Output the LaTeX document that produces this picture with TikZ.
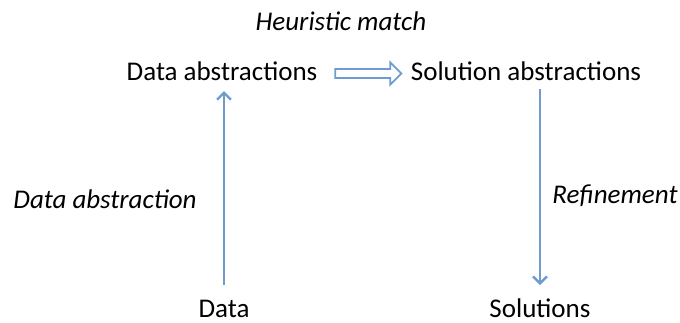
\documentclass[tikz,border=0pt]{standalone}
\usepackage{fontspec}
\setmainfont{Carlito}
\usetikzlibrary{arrows.meta,shapes.arrows}
\definecolor{arrowblue}{RGB}{110,155,208}
\tikzset{
  lbl/.style={font=\fontsize{27}{32}\selectfont, inner sep=0pt, anchor=base},
  ilbl/.style={lbl, font=\fontsize{27}{32}\selectfont\itshape},
  conn/.style={draw=arrowblue, line width=2.6pt, -{Straight Barb[length=7pt,width=14pt,line width=2.4pt]}},
  hollow/.style={single arrow, draw=arrowblue, line width=1.8pt, fill=white,
    minimum height=66pt, minimum width=22pt, single arrow head extend=5.5pt, inner sep=3pt}
}
\begin{document}
\begin{tikzpicture}[x=1pt,y=1pt]
\useasboundingbox (0,0) rectangle (680,-322);
\node[ilbl] (hm) at (341,-30) {Heuristic match};
\node[lbl] (da) at (222,-80) {Data abstractions};
\node[lbl] (sa) at (526,-80) {Solution abstractions};
\node[lbl, text depth=0pt] (d) at (224,-317) {Data};
\node[lbl, text depth=0pt] (s) at (540,-317) {Solutions};
\node[ilbl] (dal) at (105,-208) {Data abstraction};
\node[ilbl] (ref) at (615,-203) {Refinement};
\node[hollow] (ha) at (366,-73.5) {};
\coordinate (upE) at (224,-91);
\coordinate (dnS) at (540,-89);
\draw[conn, shorten <=14pt] (d.north) -- (d.north |- upE);
\draw[conn, shorten >=13pt] (s.north |- dnS) -- (s.north);
\end{tikzpicture}
\end{document}
